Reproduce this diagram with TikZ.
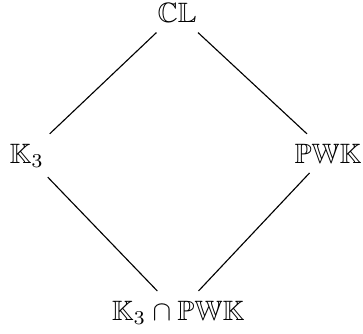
\documentclass[tikz,border=0pt]{standalone}
\usepackage{amssymb}
\usetikzlibrary{positioning}

\begin{document}
\begin{tikzpicture}[x=1pt, y=1pt]

\useasboundingbox (0,0) rectangle (129.6,-118.9);

\node [anchor=base] (cl) at (63.2,-8.1) {$\mathbb{CL}$};
\node [anchor=base] (kthree) at (9.6,-58.2) {$\mathbb{K}_3$};
\node [anchor=base] (pwk) at (117.1,-58.2) {$\mathbb{PWK}$};
\node [anchor=base] (meet) at (63.6,-114.3) {$\mathbb{K}_3 \cap \mathbb{PWK}$};

\draw (cl) -- (kthree);
\draw (cl) -- (pwk);
\draw (kthree) -- (meet);
\draw (pwk) -- (meet);
\end{tikzpicture}
\end{document}
